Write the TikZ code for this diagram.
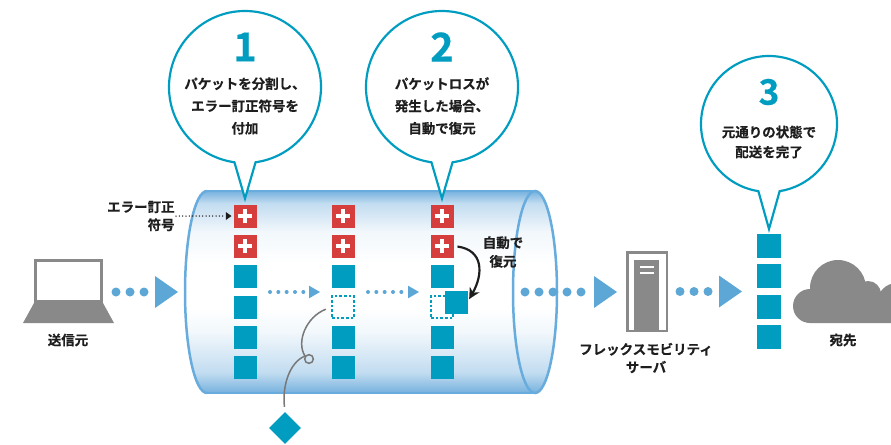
\documentclass[tikz,border=0pt]{standalone}
\usepackage{fontspec}
\setmainfont{Noto Sans CJK JP}[BoldFont={Noto Sans CJK JP Bold}, BoldFeatures={FakeBold=0.5}]
\usetikzlibrary{arrows.meta,shapes.geometric}

\definecolor{pktblue}{RGB}{0,157,193}
\definecolor{fecred}{RGB}{214,62,62}
\definecolor{flowblue}{RGB}{92,167,214}
\definecolor{tubeblue}{RGB}{118,177,222}
\definecolor{tuberim}{RGB}{104,172,221}
\definecolor{icongray}{RGB}{137,137,137}
\definecolor{wiregray}{RGB}{120,120,120}
\definecolor{inkblack}{RGB}{30,30,30}
\colorlet{tubemid}{tubeblue!45}
\colorlet{tubepale}{tubeblue!10}

% pale in the middle, blue toward the top and bottom rims
\pgfdeclareverticalshading{tubeshade}{100bp}{color(0bp)=(tubeblue); color(25bp)=(tubeblue); color(30bp)=(tubemid); color(40bp)=(tubepale); color(46bp)=(white); color(57bp)=(white); color(65bp)=(tubepale); color(72bp)=(tubemid); color(75bp)=(tubeblue); color(100bp)=(tubeblue)}

\begin{document}
\begin{tikzpicture}[x=0.03cm, y=-0.03cm]
        \tikzstyle{every node}=[font=\bfseries\fontsize{11.5}{15.3}\selectfont, text=inkblack]
        \tikzstyle{pkt}=[rectangle, fill=pktblue, minimum size=0.69cm, inner sep=0pt, outer sep=0pt]
        \tikzstyle{fec}=[pkt, fill=fecred, path picture={\draw[white, line width=0.11cm] (path picture bounding box.center) +(-0.22cm,0) -- +(0.22cm,0) (path picture bounding box.center) +(0,-0.22cm) -- +(0,0.22cm);}]
        \tikzstyle{lost}=[rectangle, draw=pktblue, line width=0.035cm, dash pattern=on 0.08cm off 0.06cm, minimum size=0.66cm, inner sep=0pt]
        \tikzstyle{ring}=[circle, inner sep=0pt, outer sep=0pt]
        \tikzstyle{bubble}=[draw=pktblue, line width=0.065cm, fill=white]
        \tikzstyle{num}=[font=\bfseries\fontsize{34}{34}\selectfont, text=pktblue]
        \tikzstyle{bubtext}=[align=center, font=\bfseries\fontsize{11.5}{19}\selectfont]
        \tikzstyle{bigflow}=[flowblue, line width=0.27cm, line cap=round, dash pattern=on 0pt off 0.42cm, -{Triangle[length=0.69cm, width=0.96cm, line width=0pt]}]
        \tikzstyle{smallflow}=[flowblue, line width=0.12cm, line cap=round, dash pattern=on 0pt off 0.25cm, -{Triangle[length=0.33cm, width=0.38cm, line width=0pt]}]
        \tikzstyle{pointer}=[inkblack, line width=0.045cm, line cap=round, dash pattern=on 0pt off 0.1cm, -{Triangle[length=0.17cm, width=0.24cm, line width=0pt]}]
        \tikzstyle{recover}=[inkblack, line width=0.065cm, -{Stealth[length=0.33cm, width=0.33cm]}]
        \tikzstyle{wire}=[wiregray, line width=0.045cm]
        \tikzstyle{rim}=[tuberim, line width=0.075cm]

        \useasboundingbox (0,0) rectangle (891,444);

        % the tube
        \shade[shading=tubeshade] (207,191) -- (535,191) arc[start angle=-90, end angle=90, x radius=22, y radius=101] -- (207,393) arc[start angle=90, end angle=270, x radius=22, y radius=101] -- cycle;
        \draw[rim, line width=0.05cm] (207,191) -- (535,191) (207,393) -- (535,393);
        \draw[rim] (207,191) arc[start angle=270, end angle=90, x radius=22, y radius=101];
        \draw[rim] (535,292) ellipse [x radius=22, y radius=101];

        % packets inside the tube
        \foreach \x [count=\c] in {245,343,442} {
            \node[fec] (p\c-1) at (\x,216) {};
            \node[fec] (p\c-2) at (\x,246) {};
            \node[pkt] (p\c-3) at (\x,276) {};
            \node[pkt] (p\c-5) at (\x,337) {};
            \node[pkt] (p\c-6) at (\x,367) {};
            \coordinate (g\c) at (\x,292);
        }
        \node[pkt] (p1-4) at (245,307) {};
        \node[lost] (p2-4) at (343,307) {};
        \node[lost] (p3-4) at (442,307) {};
        \node[pkt] (fixed) at (456,302) {};

        \draw[smallflow, shorten <=0.75cm, shorten >=0.69cm] (g1) -- (g2);
        \draw[smallflow, shorten <=0.75cm, shorten >=0.69cm] (g2) -- (g3);

        \node[anchor=east, align=right, inner sep=1pt] (feclabel) at (176,216) {エラー訂正\\符号};
        \draw[pointer, shorten >=0.06cm] (feclabel.east) -- (p1-1.west);

        \draw[recover, shorten <=0.12cm, shorten >=0.1cm] (p3-2.east) .. controls +(30,4) and +(16,-28) .. (fixed.east);
        \node[align=center, font=\bfseries\fontsize{11.5}{16}\selectfont] (autolabel) at (503,252) {自動で\\復元};

        % the lost packet drops out
        \node[diamond, fill=pktblue, inner sep=0pt, minimum width=0.96cm, minimum height=0.96cm] (drop) at (285,428) {};
        \coordinate (knot) at (309,359);
        \coordinate (twist) at (305,356);
        \draw[wire, shorten <=0.18cm] (p2-4.west) .. controls (306,317) and (296,342) .. (twist);
        \draw[wire] (knot) circle (0.13cm);
        \draw[wire, shorten >=0.15cm] (twist) .. controls (290,362) and (282,385) .. (drop.north);

        % sender
        \node[draw=icongray, line width=0.09cm, fill=white, minimum width=1.98cm, minimum height=1.23cm, inner sep=0pt] (laptop) at (68.5,281) {};
        \fill[icongray] (34,303) -- (103,303) -- (114,323) -- (23,323) -- cycle;
        \node (sender) at (68,340) {送信元};

        % server
        \node[draw=icongray, line width=0.075cm, fill=white, minimum width=1.185cm, minimum height=2.355cm, inner sep=0pt] (server) at (647,291.5) {};
        \fill[icongray] (634,260) rectangle (659,332);
        \draw[white, line width=0.045cm] (640,267) -- (654,267) (640,273) -- (654,273);
        \node[align=center] (serverlabel) at (646,358) {フレックスモビリティ\\サーバ};

        % delivered packets and destination
        \foreach \y [count=\i] in {246,276,307,337}
            \node[pkt, minimum size=0.72cm] (s\i) at (769,\y) {};
        \fill[icongray] (810,306) circle (0.51cm) (838,288) circle (0.84cm) (868,294) circle (0.39cm) (897,303) circle (0.6cm) (810,303) rectangle (897,323);
        \node (dest) at (843,340) {宛先};

        % flows between the stations
        \coordinate (tubein) at (178,292);
        \coordinate (tubeout) at (525,292);
        \draw[bigflow, shorten <=0.39cm] (laptop.east |- tubein) -- (tubein);
        \draw[bigflow, shorten >=0.27cm] (tubeout) -- (tubeout -| server.west);
        \draw[bigflow, shorten <=0.36cm, shorten >=0.45cm] (server.east) -- (s2.west |- server.east);

        % callouts
        \node[ring, minimum size=4.56cm] (b1) at (245,87) {};
        \draw[bubble] ([yshift=0.18cm]p1-1.north) -- (b1.262) arc[start angle=262, end angle=-82, radius=2.28cm] -- cycle;
        \node[num] at (245,47) {1};
        \node[bubtext] at (245,106) {パケットを分割し、\\エラー訂正符号を\\付加};

        \node[ring, minimum size=4.56cm] (b2) at (442,87) {};
        \draw[bubble] ([yshift=0.18cm]p3-1.north) -- (b2.262) arc[start angle=262, end angle=-82, radius=2.28cm] -- cycle;
        \node[num] at (442,47) {2};
        \node[bubtext] at (442,106) {パケットロスが\\発生した場合、\\自動で復元};

        \node[ring, minimum size=4.08cm] (b3) at (769,124) {};
        \draw[bubble] ([yshift=0.15cm]s1.north) -- (b3.261) arc[start angle=261, end angle=-81, radius=2.04cm] -- cycle;
        \node[num, font=\bfseries\fontsize{30}{30}\selectfont] at (769,92) {3};
        \node[bubtext, font=\bfseries\fontsize{11.5}{17}\selectfont] at (769,142) {元通りの状態で\\配送を完了};
\end{tikzpicture}
\end{document}
